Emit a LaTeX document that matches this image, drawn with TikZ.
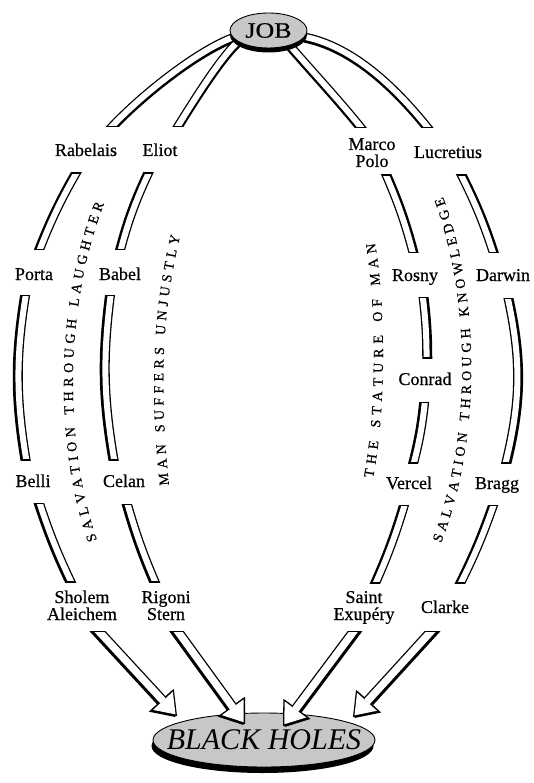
\documentclass[tikz,border=0pt]{standalone}
\usepackage{fontspec}
\usepackage{graphicx}
\setmainfont{Liberation Serif}
\newfontfamily\heavyserif{Liberation Serif}[FakeBold=0.6]
\usetikzlibrary{arrows.meta,decorations.text,shapes.geometric}
\pgfdeclarelayer{strands}
\pgfsetlayers{strands,main}

\newcommand\labfont{\heavyserif\fontsize{18}{17}\selectfont}
\newcommand\curvefont{\heavyserif\fontsize{14}{14}\selectfont}
\newcommand\jobfont{\heavyserif\fontsize{22}{22}\selectfont}
\newcommand\bhfont{\fontsize{30}{30}\selectfont\itshape}

% a hollow strand, cut off horizontally at two image rows (#1 top, #2 bottom)
\newcommand\strand[4]{%
  \begin{scope}
    \clip (-10,-#1) rectangle (545,-#2);
    \draw[strandedge, transform canvas={shift={#3}}] #4;
    \draw[strandedge] #4;
  \end{scope}
  \begin{scope}
    \clip (-10,-#1-1.2) rectangle (545,-#2+1.2);
    \draw[strandcore] #4;
  \end{scope}}

% a hollow block arrow whose tail is cut off horizontally at row #1
\newcommand\hollowarrow[4]{%
  \begin{scope}
    \clip (-10,-#1) rectangle (545,-790);
    \draw[arrowedge, transform canvas={shift={#2}}] #3 -- #4;
    \draw[arrowedge] #3 -- #4;
  \end{scope}
  \begin{scope}
    \clip (-10,-#1-1.3) rectangle (545,-790);
    \draw[arrowcore] #3 -- #4;
  \end{scope}}

\begin{document}
\begin{tikzpicture}[x=1pt,y=1pt,
  lab/.style={font=\labfont, inner sep=0pt, align=center, anchor=base},
  strandedge/.style={draw=black, line width=8.6pt, line cap=butt},
  strandcore/.style={draw=white, line width=6pt, line cap=butt},
  arrowedge/.style={draw=black, line width=10pt,
    -{Triangle[length=22pt,width=32pt,line width=0pt]}},
  arrowcore/.style={draw=white, line width=7.4pt, shorten >=2.2pt,
    -{Triangle[length=18.5pt,width=26.9pt,line width=0pt]}},
  disc/.style={ellipse, draw=black, line width=0.9pt, fill=black!22, inner sep=0pt},
  curved/.style={decorate, decoration={text along path, text align=fit to path}}]

\useasboundingbox (0,0) rectangle (533,-783);

% ---- the two poles
\fill[black] (268.5,-35) ellipse [x radius=38.5, y radius=17.5];
\node[disc, minimum width=77pt, minimum height=35pt] (JOB) at (268.5,-30.5)
  {\jobfont\scalebox{1.18}[1]{JOB}};
\fill[black] (262.5,-746) ellipse [x radius=111, y radius=27];
\node[disc, minimum width=222pt, minimum height=54pt] (BH) at (264,-740) {};
\node[inner sep=0pt, font=\bhfont] (BHtext) at (BH.center) {BLACK HOLES};

% ---- authors (two-line names sit on the baseline of their last line)
\node[lab] (Rab)    at (86,-156)  {Rabelais};
\node[lab] (Eliot)  at (160,-156) {Eliot};
\node[lab] (Marco)  at (372,-167) {Marco\\Polo};
\node[lab] (Luc)    at (448,-158) {Lucretius};
\node[lab] (Porta)  at (34,-280)  {Porta};
\node[lab] (Babel)  at (120,-280) {Babel};
\node[lab] (Rosny)  at (415,-281) {Rosny};
\node[lab] (Darwin) at (503,-281) {Darwin};
\node[lab] (Conrad) at (425,-385) {Conrad};
\node[lab] (Belli)  at (33,-487)  {Belli};
\node[lab] (Celan)  at (124,-487) {Celan};
\node[lab] (Vercel) at (409,-489) {Vercel};
\node[lab] (Bragg)  at (497,-489) {Bragg};
\node[lab] (Sholem) at (82,-620)  {Sholem\\Aleichem};
\node[lab] (Rigoni) at (166,-620) {Rigoni\\Stern};
\node[lab] (Saint)  at (364,-620) {Saint\\Exupéry};
\node[lab] (Clarke) at (445,-613) {Clarke};

% ---- strands between the authors
\begin{pgfonlayer}{strands}
  % from Job
  \strand{0}{127}{(0,-1.5)}{(JOB.191) .. controls (187,-55) and (112.6,-118.4) .. ([shift={(5,4)}]Rab.base)}
  \strand{0}{127}{(0,-1.5)}{(JOB.200) .. controls (216,-62) and (182,-120) .. ([shift={(3,6)}]Eliot.base)}
  \strand{0}{128}{(0,-1.5)}{(JOB.-35) .. controls (309,-68) and (355,-117) .. ([shift={(3,21)}]Marco.base)}
  \strand{0}{128}{(0,-1.5)}{(JOB.-10) .. controls (360,-48) and (408,-100) .. ([shift={(-6,12)}]Luc.base)}
  % left outer chain
  \strand{173}{250}{(-1.4,-0.6)}{([shift={(-2,-4)}]Rab.base) to[bend right=5] ([shift={(1,18)}]Porta.base)}
  \strand{295}{460}{(-1.4,-0.6)}{([shift={(-6,-2)}]Porta.base) to[bend right=10] ([shift={(-5,17)}]Belli.base)}
  \strand{503}{582}{(-1.4,-0.6)}{([shift={(4,-8)}]Belli.base) to[bend right=4] ([shift={(-6,28)}]Sholem.base)}
  % left inner chain
  \strand{173}{250}{(-1.4,-0.6)}{([shift={(-6,-6)}]Eliot.base) to[bend right=6] ([shift={(-2.4,18)}]Babel.base)}
  \strand{295}{460}{(-1.4,-0.6)}{([shift={(-8,-5)}]Babel.base) to[bend right=9] ([shift={(-8,17)}]Celan.base)}
  \strand{504}{582}{(-1.4,-0.6)}{([shift={(1,-8)}]Celan.base) to[bend right=4] ([shift={(-6.4,28)}]Rigoni.base)}
  % right inner chain
  \strand{175}{253}{(1.4,-0.6)}{([shift={(9.5,2)}]Marco.base) to[bend left=5] ([shift={(1,16)}]Rosny.base)}
  \strand{297}{358}{(1.4,-0.6)}{([shift={(6.7,-7)}]Rosny.base) to[bend left=4] ([shift={(1.5,17)}]Conrad.base)}
  \strand{402}{463}{(-1.4,-0.6)}{([shift={(0.8,-7)}]Conrad.base) to[bend left=5] ([shift={(2.2,16)}]Vercel.base)}
  \strand{505}{583}{(-1.4,-0.6)}{([shift={(-1.7,-7)}]Vercel.base) to[bend left=4] ([shift={(7.3,27)}]Saint.base)}
  % right outer chain
  \strand{175}{253}{(1.4,-0.6)}{([shift={(8,-7)}]Luc.base) to[bend left=5] ([shift={(-6,16)}]Darwin.base)}
  \strand{298}{463}{(1.4,-0.6)}{([shift={(2.5,-7)}]Darwin.base) to[bend left=14] ([shift={(6,16)}]Bragg.base)}
  \strand{505}{583}{(-1.4,-0.6)}{([shift={(-0.2,-7)}]Bragg.base) to[bend left=4] ([shift={(10.8,20)}]Clarke.base)}
\end{pgfonlayer}

% ---- arrows into the black holes
\hollowarrow{631}{(-1.5,-1)}{([shift={(6.4,0)}]Sholem.base)}{([shift={(-87,24)}]BH.center)}
\hollowarrow{631}{(-1.5,-1)}{([shift={(3.5,0)}]Rigoni.base)}{([shift={(-19,16)}]BH.center)}
\hollowarrow{631}{(1.5,-1)}{([shift={(-1.8,0)}]Saint.base)}{([shift={(19,14)}]BH.center)}
\hollowarrow{631}{(1.5,-1)}{([shift={(-3.5,-7)}]Clarke.base)}{([shift={(89,23)}]BH.center)}

% ---- themes written along the arcs
\path[curved, decoration={text={|\curvefont|SALVATION THROUGH LAUGHTER}}]
  (97,-540) .. controls (62,-440) and (66,-300) .. (104,-204);
\path[curved, decoration={text={|\curvefont|MAN SUFFERS UNJUSTLY}}]
  (169,-485) .. controls (160,-400) and (160,-320) .. (180,-236);
\path[curved, decoration={text={|\curvefont|THE STATURE OF MAN}}]
  (373,-478) .. controls (386,-410) and (386,-310) .. (375,-243);
\path[curved, decoration={text={|\curvefont|SALVATION THROUGH KNOWLEDGE}}]
  (441,-543) .. controls (481,-440) and (481,-300) .. (443,-197);

\end{tikzpicture}
\end{document}
